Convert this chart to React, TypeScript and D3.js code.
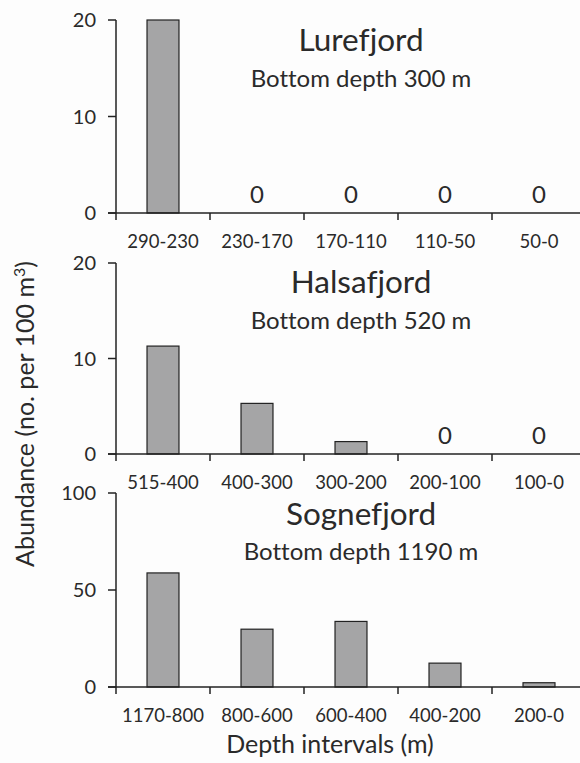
import React from "react";
import * as d3 from "d3";

const lureCats = ["290-230", "230-170", "170-110", "110-50", "50-0"];
const lureVals = [20, 0, 0, 0, 0];
const halsaCats = ["515-400", "400-300", "300-200", "200-100", "100-0"];
const halsaVals = [11.3, 5.3, 1.3, 0, 0];
const sogneCats = ["1170-800", "800-600", "600-400", "400-200", "200-0"];
const sogneVals = [58.8, 29.8, 33.8, 12.3, 2.2];

const lureTicks = [0, 10, 20];
const halsaTicks = [0, 10, 20];
const sogneTicks = [0, 50, 100];

const panelNames = ["Lurefjord", "Halsafjord", "Sognefjord"];
const panelSubs = ["Bottom depth 300 m", "Bottom depth 520 m", "Bottom depth 1190 m"];

const FONT = "Lato, 'Open Sans', sans-serif";
const TXT = "#2a2a2a";

const W = 580;
const H = 763;
const axisX = 116;
const catW = 94;

const panels = [
  { cats: lureCats, vals: lureVals, ticks: lureTicks, max: 20, top: 20, bottom: 213, titleY: 51, subY: 87 },
  { cats: halsaCats, vals: halsaVals, ticks: halsaTicks, max: 20, top: 263, bottom: 454, titleY: 293, subY: 329 },
  { cats: sogneCats, vals: sogneVals, ticks: sogneTicks, max: 100, top: 493, bottom: 687, titleY: 525, subY: 560 },
];

function Panel({ p, i }: { p: any; i: number }) {
  const x = d3
    .scaleBand<string>()
    .domain(p.cats)
    .range([axisX, axisX + catW * p.cats.length])
    .paddingInner(0.66)
    .paddingOuter(0.33);
  const y = d3.scaleLinear().domain([0, p.max]).range([p.bottom, p.top]);
  const ticksX = p.cats.map((_: string, k: number) => axisX + catW * k);
  return (
    <g>
      {p.vals.map((v: number, k: number) =>
        v > 0 ? (
          <rect
            key={k}
            x={x(p.cats[k])}
            y={y(v)}
            width={x.bandwidth()}
            height={y(0) - y(v)}
            fill="#a5a5a6"
            stroke="#222"
            strokeWidth={1.2}
          />
        ) : (
          <text
            key={k}
            x={(x(p.cats[k]) as number) + x.bandwidth() / 2}
            y={y(0) - 10}
            textAnchor="middle"
            fontSize={24}
            fill={TXT}
          >
            0
          </text>
        )
      )}
      <line x1={axisX} x2={axisX} y1={y(p.max)} y2={y(0)} stroke="#222" strokeWidth={1.5} />
      <line x1={axisX - 8} x2={W} y1={y(0)} y2={y(0)} stroke="#222" strokeWidth={1.5} />
      {p.ticks.map((t: number) => (
        <g key={t}>
          <line x1={axisX - 8} x2={axisX} y1={y(t)} y2={y(t)} stroke="#222" strokeWidth={1.5} />
          <text x={axisX - 20} y={y(t)} dy="0.36em" textAnchor="end" fontSize={20} fill={TXT}>
            {t}
          </text>
        </g>
      ))}
      {ticksX.map((tx: number, k: number) => (
        <line key={k} x1={tx} x2={tx} y1={y(0)} y2={y(0) + 7} stroke="#222" strokeWidth={1.5} />
      ))}
      {p.cats.map((c: string) => (
        <text
          key={c}
          x={(x(c) as number) + x.bandwidth() / 2}
          y={y(0) + 35}
          textAnchor="middle"
          fontSize={18.5}
          fill={TXT}
        >
          {c}
        </text>
      ))}
      <text x={361} y={p.titleY} textAnchor="middle" fontSize={31.5} fill={TXT}>
        {panelNames[i]}
      </text>
      <text x={361} y={p.subY} textAnchor="middle" fontSize={24} fill={TXT}>
        {panelSubs[i]}
      </text>
    </g>
  );
}

export default function App() {
  return (
    <svg
      width={W}
      height={H}
      style={{ position: "absolute", left: 0, top: 0, background: "#fdfdfd", fontVariantLigatures: "none" }}
      fontFamily={FONT}
    >
      <rect width={W} height={H} fill="#fdfdfd" />
      {panels.map((p, i) => (
        <Panel key={i} p={p} i={i} />
      ))}
      <text
        transform="translate(34,414) rotate(-90)"
        textAnchor="middle"
        fontSize={25}
        fill={TXT}
      >
        Abundance (no. per 100 m<tspan dy={-9} fontSize={16}>3</tspan>
        <tspan dy={9}>)</tspan>
      </text>
      <text x={330} y={753} textAnchor="middle" fontSize={25} fill={TXT}>
        Depth intervals (m)
      </text>
    </svg>
  );
}
